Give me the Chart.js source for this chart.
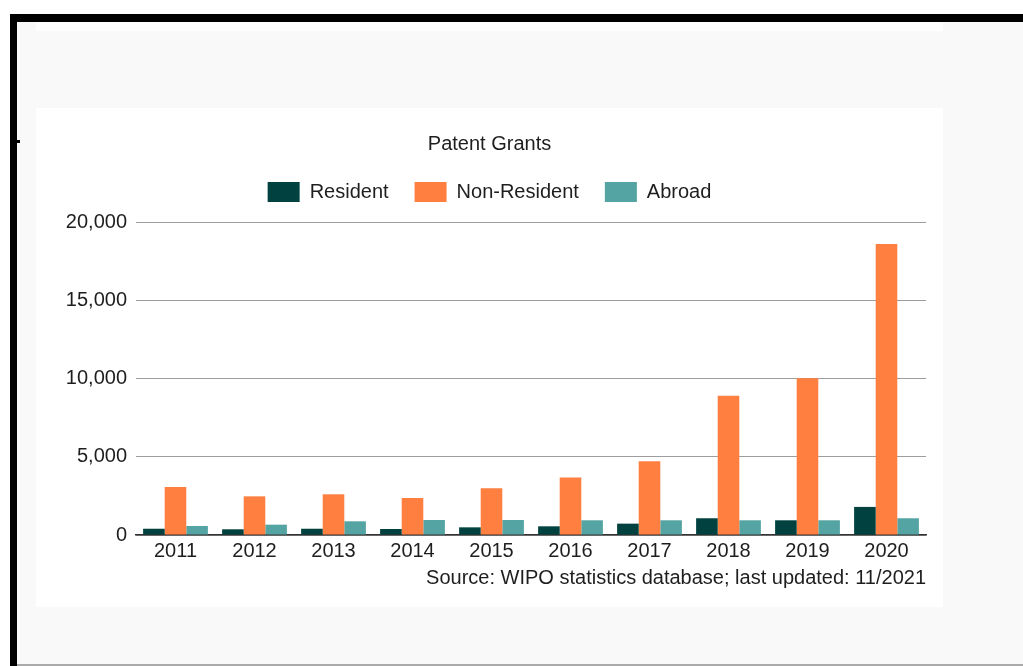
<!DOCTYPE html>
<html>
<head>
<meta charset="utf-8">
<script src="https://cdn.jsdelivr.net/npm/chart.js@4.4.1/dist/chart.umd.min.js"></script>
<style>
  html, body { margin: 0; padding: 0; background: #fff; width: 1023px; height: 666px; overflow: hidden; }
  #frame { position: absolute; left: 10px; top: 14px; width: 1013px; height: 652px; background: #000; }
  #inner { position: absolute; left: 17px; top: 22px; width: 1006px; height: 642px; background: #f9f9f9; border-bottom: 2px solid #aaa; }
  #strip { position: absolute; left: 36px; top: 22px; width: 907px; height: 9px; background: #fff; }
  #tick { position: absolute; left: 17px; top: 140px; width: 3px; height: 3px; background: #000; }
  #box { position: absolute; left: 36px; top: 108px; width: 907px; height: 499px; background: #fff; }
</style>
</head>
<body>
<div id="frame"></div>
<div id="inner"></div>
<div id="strip"></div>
<div id="tick"></div>
<div id="box"><canvas id="chart" width="907" height="499"></canvas></div>
<script>
// values
const years = ['2011', '2012', '2013', '2014', '2015', '2016', '2017', '2018', '2019', '2020'];
const resident = [400, 365, 400, 385, 490, 555, 725, 1070, 940, 1795];
const nonResident = [3070, 2470, 2600, 2365, 2985, 3675, 4720, 8890, 10020, 18600];
const abroad = [575, 660, 875, 960, 960, 940, 940, 940, 940, 1070];
const yTicks = [0, 5000, 10000, 15000, 20000];

const FONT = 'Liberation Sans, Arial, sans-serif';
const TEXT = '#1e1e1e';

Chart.defaults.font.family = FONT;
Chart.defaults.color = TEXT;

// adds some room under the legend row
const legendGap = {
  id: 'legendGap',
  beforeInit(chart) {
    const fit = chart.legend.fit;
    chart.legend.fit = function () {
      fit.call(this);
      this.height += 10;
    };
  }
};

new Chart(document.getElementById('chart'), {
  type: 'bar',
  data: {
    labels: years,
    datasets: [
      { label: 'Resident', data: resident, backgroundColor: '#014240' },
      { label: 'Non-Resident', data: nonResident, backgroundColor: '#ff7f40' },
      { label: 'Abroad', data: abroad, backgroundColor: '#53a4a3' }
    ]
  },
  options: {
    responsive: false,
    animation: false,
    layout: { padding: { left: 17, right: 17, top: 0, bottom: 17 } },
    datasets: {
      bar: { categoryPercentage: 0.82, barPercentage: 1.0 }
    },
    plugins: {
      title: {
        display: true,
        text: 'Patent Grants',
        font: { size: 20, weight: 'normal' },
        color: TEXT,
        padding: { top: 24, bottom: 0 }
      },
      subtitle: {
        display: true,
        position: 'bottom',
        align: 'end',
        text: 'Source: WIPO statistics database; last updated: 11/2021',
        font: { size: 20 },
        color: TEXT,
        padding: { top: 7, bottom: 0 }
      },
      legend: {
        position: 'top',
        labels: {
          boxWidth: 32,
          boxHeight: 20,
          padding: 26,
          font: { size: 20 },
          color: TEXT
        }
      },
      tooltip: { enabled: false }
    },
    scales: {
      x: {
        grid: { display: false },
        border: { display: true, color: '#333', width: 1.5 },
        ticks: { font: { size: 20 }, color: TEXT, padding: -4, maxRotation: 0 }
      },
      y: {
        min: yTicks[0],
        max: yTicks[yTicks.length - 1],
        afterFit(axis) { axis.width = 83; },
        afterBuildTicks(axis) { axis.ticks = yTicks.map(v => ({ value: v })); },
        ticks: {
          font: { size: 20 },
          color: TEXT,
          padding: 9,
          callback: v => v.toLocaleString('en-US')
        },
        grid: { color: '#9d9d9d', lineWidth: 1, drawTicks: false },
        border: { display: false }
      }
    }
  },
  plugins: [legendGap]
});
</script>
</body>
</html>
